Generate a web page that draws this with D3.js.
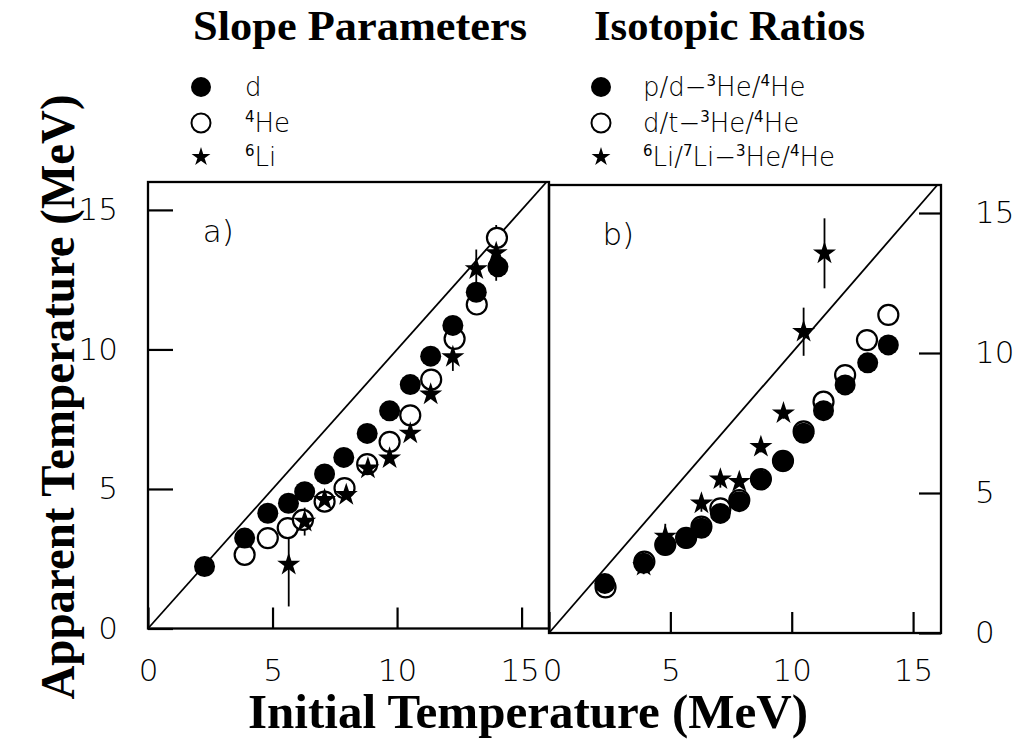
<!DOCTYPE html>
<html><head><meta charset="utf-8">
<script src="https://cdn.jsdelivr.net/npm/d3@7"></script>
<style>
body{margin:0;background:#fff;}
.thin{font-family:"DejaVu Sans",sans-serif;font-weight:200;}
.serif{font-family:"Liberation Serif","Times New Roman",serif;font-weight:bold;}
</style></head>
<body>
<svg id="c" width="1014" height="740"></svg>
<script>
// ---- data ----
const ticks = [0, 5, 10, 15];
// panel a: slope parameters
const aDX = [2.27,3.88,4.81,5.64,6.29,7.09,7.86,8.80,9.70,10.53,11.35,12.24,13.18,14.05];
const aDY = [2.22,3.24,4.13,4.49,4.90,5.54,6.13,6.99,7.80,8.74,9.76,10.86,12.05,12.96];
const aHeX = [3.88,4.81,5.61,6.22,7.09,7.89,8.80,9.70,10.53,11.37,12.31,13.20,14.01];
const aHeY = [2.64,3.24,3.60,3.89,4.55,5.03,5.89,6.69,7.64,8.92,10.38,11.61,14.00];
const aLiX = [5.65,6.29,7.09,7.96,8.83,9.70,10.53,11.35,12.24,13.18,13.98];
const aLiY = [2.29,3.83,4.61,4.79,5.74,6.10,6.99,8.39,9.73,12.88,13.46];
const aLiErr = [1.5,0.5,0.3,0,0,0,0,0,0.5,0.7,1.0];
// panel b: isotopic ratios
const bPX = [2.30,3.90,4.79,5.65,6.28,7.06,7.84,8.73,9.64,10.49,11.31,12.20,13.13,13.98];
const bPY = [1.77,2.49,3.14,3.38,3.74,4.27,4.69,5.46,6.12,7.13,7.94,8.86,9.65,10.29];
const bDX = [2.33,3.93,4.79,5.65,6.28,7.06,7.84,8.73,9.64,10.49,11.31,12.20,13.10,13.98];
const bDY = [1.63,2.55,3.15,3.40,3.80,4.45,4.75,5.50,6.15,7.20,8.26,9.21,10.46,11.36];
const bLiX = [3.90,4.79,6.28,7.06,7.84,8.73,9.66,10.49,11.35];
const bLiY = [2.40,3.45,4.63,5.49,5.40,6.65,7.85,10.76,13.56];
const bLiErr = [0.3,0.45,0.3,0.3,0,0.2,0.2,0.86,1.25];
const titles = ["Slope Parameters", "Isotopic Ratios"];

const svg = d3.select("#c");
const xA = d3.scaleLinear().domain([0,16.1]).range([148,549]);
const yA = d3.scaleLinear().domain([0,16]).range([628.5,182]);
const xB = d3.scaleLinear().domain([0,16.15]).range([549,941]);
const yB = d3.scaleLinear().domain([0,16]).range([633,185]);

const starSym = s => d3.symbol().type(d3.symbolStar).size(s)();

function panel(x, y, fill, open, stars, label, side){
  const g = svg.append("g");
  g.append("rect").attr("x", x.range()[0]).attr("y", y.range()[1])
    .attr("width", x.range()[1]-x.range()[0]).attr("height", y.range()[0]-y.range()[1])
    .attr("fill","none").attr("stroke","#000").attr("stroke-width",2.3);
  g.append("line").attr("x1",x(0)).attr("y1",y(0)).attr("x2",x(16)).attr("y2",y(16))
    .attr("stroke","#000").attr("stroke-width",1.8);
  const xb = g.append("g").attr("transform",`translate(0,${y(0)})`)
    .call(d3.axisBottom(x).tickValues(ticks).tickFormat(d3.format("d")).tickSizeInner(-21).tickSizeOuter(0).tickPadding(side==="left"?30.5:26));
  const yAx = side==="left" ? d3.axisLeft(y).tickSizeInner(-25).tickPadding(30)
                            : d3.axisRight(y).tickSizeInner(-22).tickPadding(34);
  const yb = g.append("g").attr("transform",`translate(${side==="left"?x.range()[0]:x.range()[1]},0)`)
    .call(yAx.tickValues(ticks).tickFormat(d3.format("d")).tickSizeOuter(0));
  [xb,yb].forEach(a=>{
    a.select(".domain").remove();
    a.selectAll("line").attr("stroke","#000").attr("stroke-width",2.2);
    a.selectAll("text").attr("class","thin").attr("font-size",31).attr("fill","#000");
  });
  // keep the shared "15"/"0" labels touching without overlapping
  if(side==="left") xb.selectAll("text").filter(d=>d===15).attr("dx",-2);
  else xb.selectAll("text").filter(d=>d===0).attr("dx",3);
  g.append("text").attr("class","thin").attr("font-size",31)
    .attr("x", x(2.2)).attr("y", y(13.85)).text(label);
  g.selectAll("line.err").data(stars.filter(d=>d.e>0)).join("line")
    .attr("x1",d=>x(d.x)).attr("x2",d=>x(d.x)).attr("y1",d=>y(d.y-d.e)).attr("y2",d=>y(d.y+d.e))
    .attr("stroke","#000").attr("stroke-width",1.8);
  g.selectAll("circle.o").data(open).join("circle")
    .attr("cx",d=>x(d.x)).attr("cy",d=>y(d.y)).attr("r",10)
    .attr("fill","#fff").attr("stroke","#000").attr("stroke-width",2.2);
  g.selectAll("circle.f").data(fill).join("circle")
    .attr("cx",d=>x(d.x)).attr("cy",d=>y(d.y)).attr("r",10.5).attr("fill","#000");
  g.selectAll("path.s").data(stars).join("path")
    .attr("transform",d=>`translate(${x(d.x)},${y(d.y)})`).attr("d",starSym(165)).attr("fill","#000");
}
const zip = (X,Y,E)=>X.map((v,i)=>({x:v,y:Y[i],e:E?E[i]:0}));
panel(xA,yA,zip(aDX,aDY),zip(aHeX,aHeY),zip(aLiX,aLiY,aLiErr),"a)","left");
panel(xB,yB,zip(bPX,bPY),zip(bDX,bDY),zip(bLiX,bLiY,bLiErr),"b)","right");

// titles
svg.append("text").attr("class","serif").attr("font-size",43).attr("x",193).attr("y",40)
  .attr("textLength",334).attr("lengthAdjust","spacingAndGlyphs").text(titles[0]);
svg.append("text").attr("class","serif").attr("font-size",43).attr("x",594).attr("y",40)
  .attr("textLength",271).attr("lengthAdjust","spacingAndGlyphs").text(titles[1]);
svg.append("text").attr("class","serif").attr("font-size",48).attr("text-anchor","middle")
  .attr("transform","translate(74,397) rotate(-90)")
  .attr("textLength",605).attr("lengthAdjust","spacingAndGlyphs").text("Apparent Temperature (MeV)");
svg.append("text").attr("class","serif").attr("font-size",48).attr("text-anchor","middle")
  .attr("x",528).attr("y",728)
  .attr("textLength",560).attr("lengthAdjust","spacingAndGlyphs").text("Initial Temperature (MeV)");

// legends
const legA = [["fill",[["d"]]],["open",[["4","sup"],["He"]]],["star",[["6","sup"],["Li"]]]];
const legB = [["fill",[["p/d−"],["3","sup"],["He/"],["4","sup"],["He"]]],
              ["open",[["d/t−"],["3","sup"],["He/"],["4","sup"],["He"]]],
              ["star",[["6","sup"],["Li/"],["7","sup"],["Li−"],["3","sup"],["He/"],["4","sup"],["He"]]]];
const rowY = [87,123,157];
function legend(items, mx, tx){
  items.forEach((it,i)=>{
    const cy = rowY[i];
    if(it[0]==="fill") svg.append("circle").attr("cx",mx).attr("cy",cy).attr("r",10).attr("fill","#000");
    else if(it[0]==="open") svg.append("circle").attr("cx",mx).attr("cy",cy).attr("r",9.5).attr("fill","none").attr("stroke","#000").attr("stroke-width",2);
    else svg.append("path").attr("transform",`translate(${mx},${cy})`).attr("d",starSym(110)).attr("fill","#000");
    const t = svg.append("text").attr("class","thin").attr("font-size",26).attr("x",tx).attr("y",cy+9);
    let prevSup=false;
    it[1].forEach(p=>{
      const s = t.append("tspan").text(p[0]);
      if(p[1]==="sup"){ s.attr("font-size",15).attr("font-weight",400).attr("dy",-10); prevSup=true; }
      else { s.attr("dy", prevSup?10:0); prevSup=false; }
    });
  });
}
legend(legA,201,245);
legend(legB,601,643);
</script>
</body></html>
